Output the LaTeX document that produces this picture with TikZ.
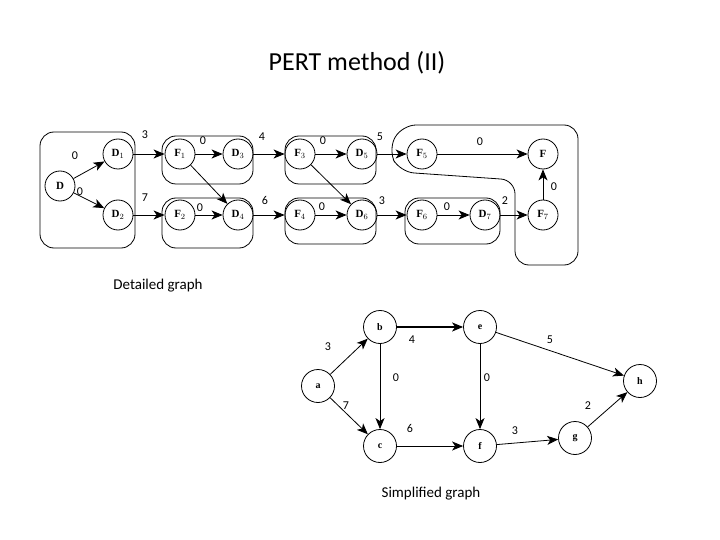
\documentclass[tikz,border=0pt]{standalone}
\usepackage{fontspec}
\setmainfont{Carlito}
\newfontfamily\nodefont{Liberation Serif}
\usetikzlibrary{arrows.meta}
\begin{document}
\begin{tikzpicture}[x=1pt,y=-1pt,
 nd/.style={circle,draw,thick,minimum size=30pt,inner sep=0pt,font=\nodefont\bfseries\fontsize{11}{11}\selectfont},
 sn/.style={circle,draw,thick,minimum size=33pt,inner sep=0pt,font=\nodefont\bfseries\fontsize{10}{10}\selectfont},
 ar/.style={thick,-{Stealth[length=11pt,width=9pt,inset=3pt]}},
 grp/.style={draw,thick,rounded corners=14pt},
 lb/.style={font=\fontsize{12}{12}\selectfont}]
\useasboundingbox (0,0) rectangle (720,540);
\node[font=\fontsize{26}{26}\selectfont] (title) at (357,63) {PERT method (II)};
% groups
\draw[grp] (40,132) rectangle (135,248);
\draw[grp] (162,136) rectangle (253,184);
\draw[grp] (162,198) rectangle (253,248);
\draw[grp] (285,136) rectangle (376,184);
\draw[grp] (285,198) rectangle (376,244);
\draw[grp] (405,198) rectangle (500,244);
\draw[thick,rounded corners=14pt] (402,125) -- (578,125) -- (578,265) -- (515,265) -- (515,180) -- (400,172) -- (388,150) -- cycle;
% nodes
\node[nd] (D) at (60,186) {D};
\node[nd] (D1) at (118,154) {D$_1$};
\node[nd] (D2) at (118,215) {D$_2$};
\node[nd] (F1) at (180,154) {F$_1$};
\node[nd] (D3) at (238,154) {D$_3$};
\node[nd] (F2) at (180,215) {F$_2$};
\node[nd] (D4) at (238,215) {D$_4$};
\node[nd] (F3) at (300,154) {F$_3$};
\node[nd] (D5) at (362,154) {D$_5$};
\node[nd] (F4) at (300,215) {F$_4$};
\node[nd] (D6) at (362,215) {D$_6$};
\node[nd] (F5) at (422,154) {F$_5$};
\node[nd] (F) at (543,154) {F};
\node[nd] (F6) at (422,215) {F$_6$};
\node[nd] (D7) at (485,215) {D$_7$};
\node[nd] (F7) at (543,215) {F$_7$};
\draw[ar] (D) -- (D1); \draw[ar] (D) -- (D2);
\draw[ar] (D1) -- (F1); \draw[ar] (D2) -- (F2);
\draw[ar] (F1) -- (D3); \draw[ar] (F2) -- (D4); \draw[ar] (F1) -- (D4);
\draw[ar] (D3) -- (F3); \draw[ar] (D4) -- (F4);
\draw[ar] (F3) -- (D5); \draw[ar] (F4) -- (D6); \draw[ar] (F3) -- (D6);
\draw[ar] (D5) -- (F5); \draw[ar] (D6) -- (F6);
\draw[ar] (F5) -- (F); \draw[ar] (F6) -- (D7); \draw[ar] (D7) -- (F7); \draw[ar] (F7) -- (F);
\node[lb] (l1) at (75,156) {0};
\node[lb] (l2) at (80,192) {0};
\node[lb] (l3) at (145,135) {3};
\node[lb] (l4) at (145,198) {7};
\node[lb] (l5) at (203,141) {0};
\node[lb] (l6) at (200,208) {0};
\node[lb] (l7) at (262,137) {4};
\node[lb] (l8) at (265,200) {6};
\node[lb] (l9) at (323,141) {0};
\node[lb] (l10) at (322,207) {0};
\node[lb] (l11) at (380,137) {5};
\node[lb] (l12) at (382,201) {3};
\node[lb] (l13) at (480,142) {0};
\node[lb] (l14) at (447,207) {0};
\node[lb] (l15) at (505,201) {2};
\node[lb] (l16) at (554,187) {0};
\node[font=\fontsize{15}{15}\selectfont] (dg) at (158,286) {Detailed graph};
% simplified
\node[sn] (a) at (318,386) {a};
\node[sn] (b) at (380,327) {b};
\node[sn] (e) at (480,327) {e};
\node[sn] (c) at (380,446) {c};
\node[sn] (f) at (480,446) {f};
\node[sn] (g) at (575,438) {g};
\node[sn] (h) at (640,381) {h};
\draw[ar] (a) -- (b); \draw[ar] (a) -- (c);
\draw[ar,very thick] (b) -- (e); \draw[ar] (b) -- (c);
\draw[ar] (e) -- (f); \draw[ar] (e) -- (h);
\draw[ar] (c) -- (f); \draw[ar] (f) -- (g); \draw[ar] (g) -- (h);
\node[lb] (m1) at (328,347) {3};
\node[lb] (m2) at (412,340) {4};
\node[lb] (m3) at (550,340) {5};
\node[lb] (m4) at (396,378) {0};
\node[lb] (m5) at (487,378) {0};
\node[lb] (m6) at (346,406) {7};
\node[lb] (m7) at (410,428) {6};
\node[lb] (m8) at (515,431) {3};
\node[lb] (m9) at (588,406) {2};
\node[font=\fontsize{15}{15}\selectfont] (sg) at (431,494) {Simplified graph};
\end{tikzpicture}
\end{document}
